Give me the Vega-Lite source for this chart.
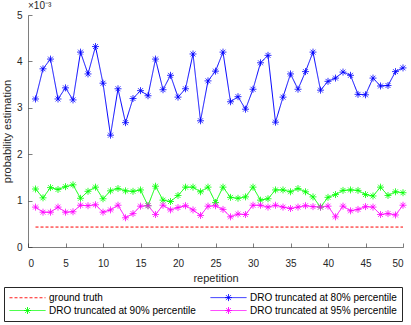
{
  "$schema": "https://vega.github.io/schema/vega-lite/v6.json",
  "width": 375,
  "height": 232,
  "autosize": {"type": "none"},
  "padding": {"left": 28, "top": 15, "right": 8, "bottom": 78},
  "background": "white",
  "config": {
    "font": "Liberation Sans",
    "view": {"stroke": null},
    "axis": {
      "grid": false,
      "domainColor": "#262626",
      "domainWidth": 0.6,
      "tickColor": "#262626",
      "tickWidth": 0.6,
      "tickSize": -4,
      "labelFontSize": 10,
      "labelColor": "#262626",
      "titleFontSize": 11,
      "titleFontWeight": "normal",
      "titleColor": "#262626",
      "labelFont": "Liberation Sans",
      "titleFont": "Liberation Sans"
    }
  },
  "title": {
    "text": "×10⁻³",
    "anchor": "start",
    "frame": "group",
    "fontSize": 10,
    "fontWeight": "normal",
    "color": "#262626",
    "offset": -1,
    "font": "Liberation Sans"
  },
  "data": {
    "values": [
      {"rep": 1, "gt": 0.00043, "p80": 0.00319, "p90": 0.00125, "p95": 0.00086},
      {"rep": 2, "gt": 0.00043, "p80": 0.00384, "p90": 0.00106, "p95": 0.00075},
      {"rep": 3, "gt": 0.00043, "p80": 0.00405, "p90": 0.00128, "p95": 0.00075},
      {"rep": 4, "gt": 0.00043, "p80": 0.00319, "p90": 0.00124, "p95": 0.00086},
      {"rep": 5, "gt": 0.00043, "p80": 0.00343, "p90": 0.00130, "p95": 0.00075},
      {"rep": 6, "gt": 0.00043, "p80": 0.00317, "p90": 0.00134, "p95": 0.00076},
      {"rep": 7, "gt": 0.00043, "p80": 0.00420, "p90": 0.00105, "p95": 0.00090},
      {"rep": 8, "gt": 0.00043, "p80": 0.00373, "p90": 0.00120, "p95": 0.00089},
      {"rep": 9, "gt": 0.00043, "p80": 0.00432, "p90": 0.00129, "p95": 0.00091},
      {"rep": 10, "gt": 0.00043, "p80": 0.00353, "p90": 0.00104, "p95": 0.00075},
      {"rep": 11, "gt": 0.00043, "p80": 0.00241, "p90": 0.00121, "p95": 0.00080},
      {"rep": 12, "gt": 0.00043, "p80": 0.00341, "p90": 0.00126, "p95": 0.00090},
      {"rep": 13, "gt": 0.00043, "p80": 0.00268, "p90": 0.00121, "p95": 0.00063},
      {"rep": 14, "gt": 0.00043, "p80": 0.00320, "p90": 0.00120, "p95": 0.00072},
      {"rep": 15, "gt": 0.00043, "p80": 0.00337, "p90": 0.00123, "p95": 0.00088},
      {"rep": 16, "gt": 0.00043, "p80": 0.00326, "p90": 0.00089, "p95": 0.00089},
      {"rep": 17, "gt": 0.00043, "p80": 0.00405, "p90": 0.00131, "p95": 0.00070},
      {"rep": 18, "gt": 0.00043, "p80": 0.00339, "p90": 0.00101, "p95": 0.00090},
      {"rep": 19, "gt": 0.00043, "p80": 0.00370, "p90": 0.00098, "p95": 0.00080},
      {"rep": 20, "gt": 0.00043, "p80": 0.00323, "p90": 0.00111, "p95": 0.00085},
      {"rep": 21, "gt": 0.00043, "p80": 0.00341, "p90": 0.00129, "p95": 0.00089},
      {"rep": 22, "gt": 0.00043, "p80": 0.00416, "p90": 0.00129, "p95": 0.00080},
      {"rep": 23, "gt": 0.00043, "p80": 0.00272, "p90": 0.00119, "p95": 0.00068},
      {"rep": 24, "gt": 0.00043, "p80": 0.00358, "p90": 0.00129, "p95": 0.00088},
      {"rep": 25, "gt": 0.00043, "p80": 0.00379, "p90": 0.00096, "p95": 0.00089},
      {"rep": 26, "gt": 0.00043, "p80": 0.00420, "p90": 0.00129, "p95": 0.00081},
      {"rep": 27, "gt": 0.00043, "p80": 0.00313, "p90": 0.00107, "p95": 0.00065},
      {"rep": 28, "gt": 0.00043, "p80": 0.00324, "p90": 0.00105, "p95": 0.00071},
      {"rep": 29, "gt": 0.00043, "p80": 0.00297, "p90": 0.00108, "p95": 0.00070},
      {"rep": 30, "gt": 0.00043, "p80": 0.00340, "p90": 0.00129, "p95": 0.00090},
      {"rep": 31, "gt": 0.00043, "p80": 0.00397, "p90": 0.00101, "p95": 0.00090},
      {"rep": 32, "gt": 0.00043, "p80": 0.00413, "p90": 0.00104, "p95": 0.00086},
      {"rep": 33, "gt": 0.00043, "p80": 0.00269, "p90": 0.00123, "p95": 0.00090},
      {"rep": 34, "gt": 0.00043, "p80": 0.00323, "p90": 0.00123, "p95": 0.00086},
      {"rep": 35, "gt": 0.00043, "p80": 0.00373, "p90": 0.00119, "p95": 0.00083},
      {"rep": 36, "gt": 0.00043, "p80": 0.00340, "p90": 0.00126, "p95": 0.00086},
      {"rep": 37, "gt": 0.00043, "p80": 0.00378, "p90": 0.00119, "p95": 0.00089},
      {"rep": 38, "gt": 0.00043, "p80": 0.00420, "p90": 0.00108, "p95": 0.00087},
      {"rep": 39, "gt": 0.00043, "p80": 0.00338, "p90": 0.00086, "p95": 0.00086},
      {"rep": 40, "gt": 0.00043, "p80": 0.00357, "p90": 0.00107, "p95": 0.00088},
      {"rep": 41, "gt": 0.00043, "p80": 0.00364, "p90": 0.00113, "p95": 0.00065},
      {"rep": 42, "gt": 0.00043, "p80": 0.00377, "p90": 0.00122, "p95": 0.00088},
      {"rep": 43, "gt": 0.00043, "p80": 0.00370, "p90": 0.00123, "p95": 0.00078},
      {"rep": 44, "gt": 0.00043, "p80": 0.00329, "p90": 0.00122, "p95": 0.00081},
      {"rep": 45, "gt": 0.00043, "p80": 0.00328, "p90": 0.00113, "p95": 0.00087},
      {"rep": 46, "gt": 0.00043, "p80": 0.00364, "p90": 0.00110, "p95": 0.00086},
      {"rep": 47, "gt": 0.00043, "p80": 0.00347, "p90": 0.00129, "p95": 0.00070},
      {"rep": 48, "gt": 0.00043, "p80": 0.00348, "p90": 0.00111, "p95": 0.00072},
      {"rep": 49, "gt": 0.00043, "p80": 0.00378, "p90": 0.00119, "p95": 0.00069},
      {"rep": 50, "gt": 0.00043, "p80": 0.00386, "p90": 0.00117, "p95": 0.00090}
    ]
  },
  "transform": [{"fold": ["gt", "p80", "p90", "p95"], "as": ["series", "value"]}],
  "encoding": {
    "x": {
      "field": "rep",
      "type": "quantitative",
      "scale": {"domain": [0, 50], "nice": false},
      "axis": {"values": [0, 5, 10, 15, 20, 25, 30, 35, 40, 45, 50], "title": "repetition", "labelPadding": 15, "titlePadding": 4}
    },
    "y": {
      "field": "value",
      "type": "quantitative",
      "scale": {"domain": [0, 0.005], "nice": false},
      "axis": {"values": [0, 0.001, 0.002, 0.003, 0.004, 0.005], "labelExpr": "format(datum.value * 1000, 'd')", "title": "probability estimation", "labelPadding": 10, "titlePadding": 4}
    },
    "color": {
      "field": "series",
      "type": "nominal",
      "scale": {"domain": ["gt", "p80", "p90", "p95"], "range": ["#ff0000", "#0000ff", "#00ff00", "#ff00ff"]},
      "legend": {
        "title": null,
        "orient": "none",
        "legendX": -24,
        "legendY": 272,
        "columns": 2,
        "direction": "horizontal",
        "strokeColor": "#262626",
        "padding": 5,
        "symbolSize": 100,
        "symbolStrokeWidth": 0.9,
        "labelFontSize": 10,
        "labelColor": "#000000",
        "labelFont": "Liberation Sans",
        "labelOffset": 29,
        "columnPadding": 12,
        "rowPadding": 2,
        "labelExpr": "datum.label === 'gt' ? 'ground truth' : datum.label === 'p80' ? 'DRO truncated at 80% percentile' : datum.label === 'p90' ? 'DRO truncated at 90% percentile' : 'DRO truncated at 95% percentile'",
        "encode": {
          "symbols": {
            "update": {
              "shape": {"signal": "datum.value === 'gt' ? 'M-1,0L-0.4,0M0,0L0.6,0M1,0L1.6,0M2,0L2.6,0M3,0L3.6,0M4,0L4.6,0M5,0L5.6,0M6,0L6.2,0' : 'M-1,0L6.2,0M2.6,-0.7L2.6,0.7M1.9,0L3.3,0M2.1,-0.5L3.1,0.5M2.1,0.5L3.1,-0.5'"}
            }
          }
        }
      }
    }
  },
  "layer": [
    {
      "mark": {"type": "line", "strokeWidth": 1},
      "encoding": {
        "strokeDash": {
          "field": "series",
          "type": "nominal",
          "scale": {"domain": ["gt", "p80", "p90", "p95"], "range": [[3, 2], [1, 0], [1, 0], [1, 0]]},
          "legend": null
        }
      }
    },
    {
      "transform": [{"filter": "datum.series !== 'gt'"}],
      "mark": {
        "type": "point",
        "shape": "M-1,0L1,0M0,-1L0,1M-0.7,-0.7L0.7,0.7M-0.7,0.7L0.7,-0.7",
        "filled": false,
        "size": 49,
        "strokeWidth": 0.8,
        "opacity": 1
      }
    }
  ]
}
